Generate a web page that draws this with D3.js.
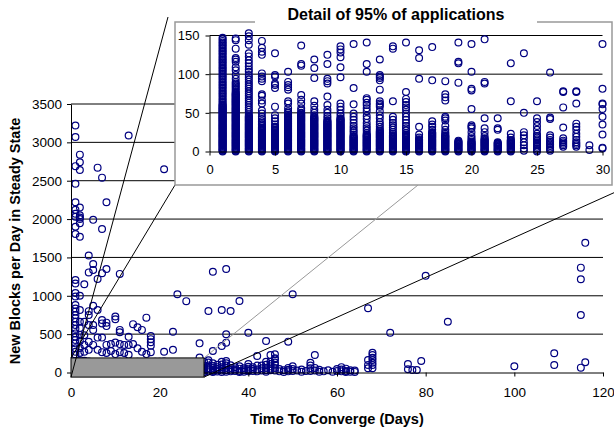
<!DOCTYPE html>
<html>
<head>
<meta charset="utf-8">
<script src="https://cdn.jsdelivr.net/npm/d3@7"></script>
<style>
  body { margin: 0; background: #fff; }
  text { font-family: "Liberation Sans", Arial, sans-serif; }
</style>
</head>
<body>
<svg id="chart" width="614" height="430"></svg>
<script>
// Tick values
const mainXTicks = [0, 20, 40, 60, 80, 100, 120];
const mainYTicks = [0, 500, 1000, 1500, 2000, 2500, 3000, 3500];
const detailXTicks = [0, 5, 10, 15, 20, 25, 30];
const detailYTicks = [0, 50, 100, 150];

// Detail data: one list of blocks/day per day (1..30)
const detailDays = [1, 2, 3, 4, 5, 6, 7, 8, 9, 10, 11, 12, 13, 14, 15,
                    16, 17, 18, 19, 20, 21, 22, 23, 24, 25, 26, 27, 28, 29, 30];
const detailBlocks = [
  [147,145,143,141,139,137,135,133,131,129,127,125,123,121,119,117,115,113,111,109,107,105,103,101,99,97,95,93,91,89,87,85,83,81,79,77,75,73,71,69,67,65,63,61,
   60,59,58,57,56,55,54,53,52,51,50,49,48,47,46,45,44,43,42,41,40,39,38,37,36,35,34,33,32,31,30,29,28,27,26,25,24,23,22,21,20,19,18,17,16,15,14,13,12,11,10,9,8,7,6,5,4,3,2,1,0],
  [146,144,133,121,119,116,109,105,99,94,90,88,86,84,82,80,78,76,
   75,74,73,72,71,70,69,68,67,66,65,64,63,62,61,60,59,58,57,56,55,54,53,52,51,50,49,48,47,46,45,44,43,42,41,40,39,38,37,36,35,34,33,32,31,30,29,28,27,26,25,24,23,22,21,20,19,18,17,16,15,14,13,12,11,10,9,8,7,6,5,4,3,2,1,0],
  [153,149,144,138,127,123,118,114,110,106,103,99,96,93,90,87,84,81,78,75,72,69,66,63,60,57,54,51,48,46,
   45,44,43,42,41,40,39,38,37,36,35,34,33,32,31,30,29,28,27,26,25,24,23,22,21,20,19,18,17,16,15,14,13,12,11,10,9,8,7,6,5,4,3,2,1,0],
  [143,134,129,125,101,97,94,91,74,72,66,62,53,49,45,42,39,37,35,33,31,
   30,29,28,27,26,25,24,23,22,21,20,19,18,17,16,15,14,13,12,11,10,9,8,7,6,5,4,3,2,1,0],
  [127,99,97,88,86,82,58,47,43,39,35,32,30,
   28,27,26,25,24,23,22,21,20,19,18,17,16,15,14,13,12,11,10,9,8,7,6,5,4,3,2,1,0],
  [103,90,86,83,80,65,62,56,52,50,48,46,
   45,44,43,42,41,40,39,38,37,36,35,34,33,32,31,30,29,28,27,26,25,24,23,22,21,20,19,18,17,16,15,14,13,12,11,10,9,8,7,6,5,4,3,2,1,0],
  [137,113,111,73,67,62,56,53,
   50,49,48,47,46,45,44,43,42,41,40,39,38,37,36,35,34,33,32,31,30,29,28,27,26,25,24,23,22,21,20,19,18,17,16,15,14,13,12,11,10,9,8,7,6,5,4,3,2,1,0],
  [119,108,95,65,59,54,50,47,
   45,44,43,42,41,40,39,38,37,36,35,34,33,32,31,30,29,28,27,26,25,24,23,22,21,20,19,18,17,16,15,14,13,12,11,10,9,8,7,6,5,4,3,2,1,0],
  [125,113,94,91,88,71,60,54,50,46,43,
   40,39,38,37,36,35,34,33,32,31,30,29,28,27,26,25,24,23,22,21,20,19,18,17,16,15,14,13,12,11,10,9,8,7,6,5,4,3,2,1,0],
  [136,132,128,122,109,96,62,58,54,49,46,
   43,42,41,40,39,38,37,36,35,34,33,32,31,30,29,28,27,26,25,24,23,22,21,20,19,18,17,16,15,14,13,12,11,10,9,8,7,6,5,4,3,2,1,0],
  [139,82,61,49,45,41,37,33,30,27,25,22,
   20,19,18,17,16,15,14,13,12,11,10,9,8,7,6,5,4,3,2,1,0],
  [141,113,103,69,67,63,60,56,52,46,42,37,33,30,27,24,
   22,21,20,19,18,17,16,15,14,13,12,11,10,9,8,7,6,5,4,3,2,1,0],
  [119,99,97,95,92,80,65,62,60,58,52,47,43,38,35,32,29,
   27,26,25,24,23,22,21,20,19,18,17,16,15,14,13,12,11,10,9,8,7,6,5,4,3,2,1,0],
  [136,133,65,45,41,37,34,31,28,25,23,
   21,20,19,18,17,16,15,14,13,12,11,10,9,8,7,6,5,4,3,2,1,0],
  [141,77,68,64,60,57,54,49,45,41,37,33,30,27,24,
   22,21,20,19,18,17,16,15,14,13,12,11,10,9,8,7,6,5,4,3,2,1,0],
  [131,121,94,32,22,18,
   16,15,14,13,12,11,10,9,8,7,6,5,4,3,2,1,0],
  [135,92,39,35,32,28,
   25,24,23,22,21,20,19,18,17,16,15,14,13,12,11,10,9,8,7,6,5,4,3,2,1,0],
  [91,74,70,66,45,43,40,33,28,25,23,
   21,20,19,18,17,16,15,14,13,12,11,10,9,8,7,6,5,4,3,2,1,0],
  [141,116,114,89,
   14,13,12,11,10,9,8,7,6,5,4,3,2,1,0],
  [139,103,81,79,55,34,32,30,25,20,17,15,
   13,12,11,10,9,8,7,6,5,4,3,2,1,0],
  [145,90,88,43,30,25,20,
   17,16,15,14,13,12,11,10,9,8,7,6,5,4,3,2,1,0],
  [43,30,28,
   12,11,10,9,8,7,6,5,4,3,2,1,0],
  [114,65,23,18,
   15,14,13,12,11,10,9,8,7,6,5,4,3,2,1,0],
  [127,50,25,21,17,12,8,4,1],
  [65,43,38,33,28,23,20,18,16,14,12,10,9,8,6,4,2,0],
  [102,44,42,21,18,15,13,11,9,7,5,3,1],
  [78,77,57,31,17,14,12,10,8,6],
  [78,77,62,36,32,28,23,19,15,12,10,8,6],
  [8,2],
  [139,81,62,61,55,45,35,22,5,4]
];

// Remaining applications (outside the detail window): [days, blocks/day]
const otherApps = [
  [1,3220],[1,3070],[1,2690],[1,2460],[1,2220],[1,2120],[1,2070],[1,2030],[1,1900],[1,1805],
  [1,1205],[1,1160],[1,1035],[1,990],[1,880],[1,835],[1,795],[1,750],[1,705],[1,660],
  [1,620],[1,570],[1,510],[1,465],[1,425],[1,380],[1,315],[1,270],[1,230],
  [2,2840],[2,2740],[2,2640],[2,2150],[2,2050],[2,2020],[2,2000],[2,1945],[2,1770],[2,1000],
  [2,815],[2,660],[2,580],[2,490],[2,410],[2,320],[2,255],
  [3,1150],[3,660],[3,485],[3,360],[3,270],
  [4,1525],[4,1305],[4,800],[4,750],[4,620],[4,400],[4,295],
  [5,1990],[5,1415],[5,1335],[5,870],[5,620],[5,555],[5,360],
  [6,2670],[6,1220],[6,815],[6,455],[6,295],
  [7,2540],[7,1870],[7,1295],[7,685],[7,640],[7,455],[7,265],
  [8,2220],[8,1350],[8,650],[8,605],[8,360],[8,255],
  [9,370],[9,280],[10,730],[10,695],[10,390],[10,240],
  [11,1285],[11,555],[11,525],[11,370],[11,265],[12,360],[12,255],
  [13,3090],[13,465],[13,360],[13,230],[14,630],[14,370],[15,590],[15,315],
  [16,555],[16,270],[17,715],[17,240],[18,475],[18,435],[18,395],[18,350],[18,265],
  [21,2650],[21,270],[23,530],[23,295],[24,1020],[26,930],[29,380],[29,195],
  [31,802],[31,160],[31,130],[31,90],[31,60],[31,40],[31,15],
  [32,1314],[32,280],[32,120],[32,85],[32,60],[32,35],[32,20],[32,5],
  [33,100],[33,70],[33,45],[33,25],[33,12],
  [34,815],[34,346],[34,140],[34,105],[34,70],[34,45],[34,25],[34,8],
  [35,1350],[35,498],[35,389],[35,150],[35,120],[35,90],[35,60],[35,30],[35,10],
  [36,802],[36,95],[36,60],[36,35],[36,15],[37,70],[37,40],[37,18],
  [38,932],[38,80],[38,50],[38,20],[38,5],[39,55],[39,30],[39,10],
  [40,519],[40,110],[40,75],[40,50],[40,30],[40,15],[41,70],[41,45],[41,20],
  [42,215],[42,90],[42,40],[42,15],[43,90],[43,55],[43,25],
  [44,411],[44,140],[44,100],[44,60],[44,30],[44,10],
  [45,228],[45,141],[45,110],[45,80],[45,50],[45,30],
  [46,237],[46,185],[46,172],[46,130],[46,100],[46,60],[46,25],
  [47,45],[47,15],[48,30],[48,8],[49,402],[49,60],[49,35],[49,15],
  [50,1020],[50,80],[50,45],[50,20],[51,25],[52,40],[52,10],[53,20],
  [54,128],[54,90],[54,55],[54,20],[55,228],[55,60],[55,25],[56,35],[56,10],[57,15],
  [58,30],[59,10],[60,45],[60,20],[61,70],[61,40],[61,15],[62,50],[62,20],[62,5],
  [63,30],[63,10],[64,25],[64,8],
  [67,837],[67,163],[67,98],[67,55],[68,258],[68,228],[68,193],[68,163],[68,128],[68,98],[68,55],
  [72,519],[76,111],[76,42],[77,33],[78,33],[79,150],[80,1262],[85,662],
  [100,81],[109,250],[109,98],[115,1367],[115,1215],[115,750],[115,63],[116,1690],[116,133]
];

const svg = d3.select('#chart');
const navy = '#000080';
const markerR = 3.4;

// Scales for the full view and for the detail inset
const xMain = d3.scaleLinear().domain([0, 120]).range([71, 603]);
const yMain = d3.scaleLinear().domain([0, 3500]).range([372.5, 104]);
const xDet = d3.scaleLinear().domain([0, 30]).range([209.5, 602.5]);
const yDet = d3.scaleLinear().domain([0, 150]).range([151.5, 35.5]);
const fmt = d3.format('d');

// flatten detail columns into points
const detailPoints = [];
detailDays.forEach((day, i) => {
  detailBlocks[i].forEach(b => detailPoints.push([day, b]));
});
const allPoints = detailPoints.concat(otherApps);

// ---- main chart ----
svg.append('g')
  .selectAll('line')
  .data(mainYTicks.slice(1))
  .join('line')
  .attr('x1', xMain(0)).attr('x2', xMain(120))
  .attr('y1', d => yMain(d)).attr('y2', d => yMain(d))
  .attr('stroke', '#000').attr('stroke-width', 1);

svg.append('g')
  .selectAll('circle')
  .data(allPoints)
  .join('circle')
  .attr('cx', d => xMain(d[0]))
  .attr('cy', d => yMain(d[1]))
  .attr('r', markerR)
  .attr('fill', 'none')
  .attr('stroke', navy)
  .attr('stroke-width', 1.2);

const yAxisMain = svg.append('g')
  .attr('transform', `translate(${xMain(0)},0)`)
  .call(d3.axisLeft(yMain).tickValues(mainYTicks).tickFormat(fmt)
    .tickSize(4).tickSizeOuter(0).tickPadding(5));
const xAxisMain = svg.append('g')
  .attr('transform', `translate(0,${yMain(0)})`)
  .call(d3.axisBottom(xMain).tickValues(mainXTicks).tickFormat(fmt)
    .tickSize(4).tickSizeOuter(0).tickPadding(11));

// highlighted region (the 95% window) as a gray box
const boxX0 = xMain(0), boxX1 = xMain(30);
const boxY0 = yMain(190), boxY1 = yMain(-60);
svg.append('rect')
  .attr('x', boxX0).attr('y', boxY0)
  .attr('width', boxX1 - boxX0).attr('height', boxY1 - boxY0)
  .attr('fill', '#999999')
  .attr('stroke', '#000').attr('stroke-width', 1);

// inset frame geometry
const inset = { x0: 175, y0: 22, x1: 612, y1: 185 };

// connector lines
const connectors = [
  { a: [boxX0, boxY1], b: [168, 17], color: '#000' },
  { a: [boxX0, boxY0], b: [inset.x0, inset.y1], color: '#000' },
  { a: [boxX1, boxY0], b: [418, inset.y1], color: '#999' },
  { a: [boxX1, boxY1], b: [620, 190], color: '#000' }
];
svg.append('g')
  .selectAll('line')
  .data(connectors)
  .join('line')
  .attr('x1', d => d.a[0]).attr('y1', d => d.a[1])
  .attr('x2', d => d.b[0]).attr('y2', d => d.b[1])
  .attr('stroke', d => d.color).attr('stroke-width', 1);

// axis titles
svg.append('text')
  .attr('x', 337).attr('y', 424)
  .attr('text-anchor', 'middle')
  .style('font-size', '14.5px').style('font-weight', 'bold')
  .text('Time To Converge (Days)');
svg.append('text')
  .attr('transform', 'translate(20,241) rotate(-90)')
  .attr('text-anchor', 'middle')
  .style('font-size', '14.5px').style('font-weight', 'bold')
  .text('New Blocks per Day in Steady State');

// ---- inset ----
svg.append('rect')
  .attr('x', inset.x0).attr('y', inset.y0)
  .attr('width', inset.x1 - inset.x0).attr('height', inset.y1 - inset.y0)
  .attr('fill', '#fff')
  .attr('stroke', '#999').attr('stroke-width', 1.5);

svg.append('g')
  .selectAll('line')
  .data(detailYTicks.slice(1))
  .join('line')
  .attr('x1', xDet(0)).attr('x2', xDet(30))
  .attr('y1', d => yDet(d)).attr('y2', d => yDet(d))
  .attr('stroke', '#000').attr('stroke-width', 1);

svg.append('g')
  .selectAll('circle')
  .data(detailPoints)
  .join('circle')
  .attr('cx', d => xDet(d[0]))
  .attr('cy', d => yDet(d[1]))
  .attr('r', markerR)
  .attr('fill', 'none')
  .attr('stroke', navy)
  .attr('stroke-width', 1.2);

const yAxisDet = svg.append('g')
  .attr('transform', `translate(${xDet(0)},0)`)
  .call(d3.axisLeft(yDet).tickValues(detailYTicks).tickFormat(fmt)
    .tickSize(4).tickSizeOuter(0).tickPadding(6));
const xAxisDet = svg.append('g')
  .attr('transform', `translate(0,${yDet(0)})`)
  .call(d3.axisBottom(xDet).tickValues(detailXTicks).tickFormat(fmt)
    .tickSize(4).tickSizeOuter(0).tickPadding(9));

// style all axes alike
[yAxisMain, xAxisMain].forEach(g => {
  g.selectAll('text').style('font-size', '13.5px').attr('fill', '#000');
  g.selectAll('line,path').attr('stroke', '#000');
});
[yAxisDet, xAxisDet].forEach(g => {
  g.selectAll('text').style('font-size', '13px').attr('fill', '#000');
  g.selectAll('line,path').attr('stroke', '#000');
});

// inset title, sitting on a white patch over the frame
svg.append('rect')
  .attr('x', 255).attr('y', 4).attr('width', 282).attr('height', 26)
  .attr('fill', '#fff');
svg.append('text')
  .attr('x', 396).attr('y', 20)
  .attr('text-anchor', 'middle')
  .style('font-size', '16px').style('font-weight', 'bold')
  .text('Detail of 95% of applications');
</script>
</body>
</html>
